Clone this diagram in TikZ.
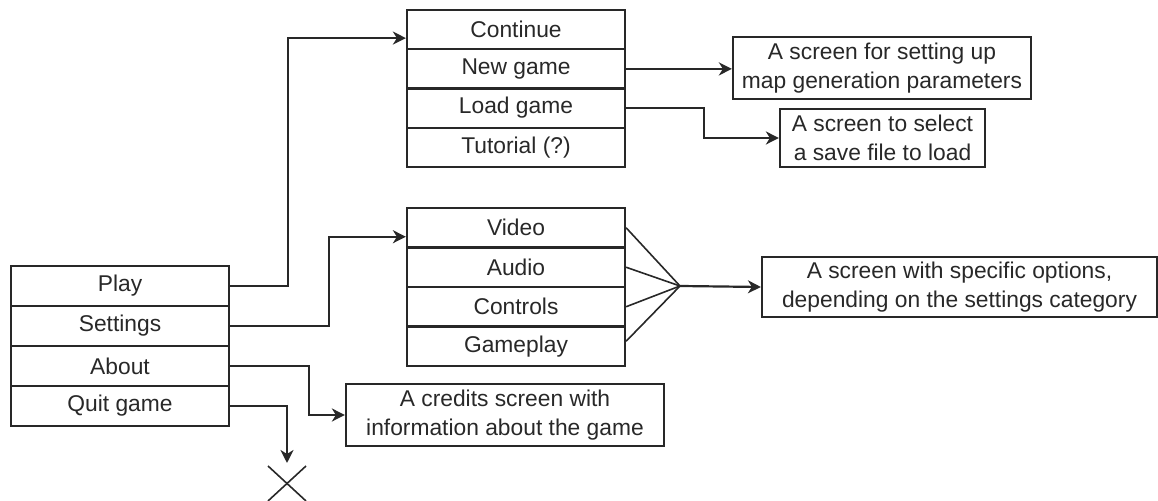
\documentclass[tikz,border=0pt]{standalone}
\usepackage{fontspec}
\setmainfont{Liberation Sans}
\usetikzlibrary{arrows.meta,calc}
\definecolor{ink}{RGB}{40,40,40}
\begin{document}
\begin{tikzpicture}[x=0.5pt,y=-0.5pt,
  every node/.style={font=\fontsize{11.4}{14.5}\selectfont, text=ink},
  box/.style={draw=ink, line width=1.1pt, rectangle, inner sep=0pt, align=center},
  conn/.style={draw=ink, line width=1.1pt},
  arr/.style={conn, -{Stealth[length=6.5pt,width=6.5pt,inset=2pt]}}]
\useasboundingbox (0,0) rectangle (1158,501);
% main menu
\node[box, minimum width=109pt, minimum height=20pt] (play) at (120,286) {Play};
\node[box, minimum width=109pt, minimum height=20pt] (settings) at (120,326) {Settings};
\node[box, minimum width=109pt, minimum height=20pt] (about) at (120,366) {About};
\node[box, minimum width=109pt, minimum height=20pt] (quit) at (120,406) {Quit game};
% play submenu
\node[box, minimum width=109pt, minimum height=19.6pt] (cont) at (516,29.6) {Continue};
\node[box, minimum width=109pt, minimum height=19.6pt] (newgame) at (516,68.9) {New game};
\node[box, minimum width=109pt, minimum height=19.6pt] (loadgame) at (516,108.1) {Load game};
\node[box, minimum width=109pt, minimum height=19.6pt] (tutorial) at (516,147.4) {Tutorial (?)};
% settings submenu
\node[box, minimum width=109pt, minimum height=19.75pt] (video) at (516,227.75) {Video};
\node[box, minimum width=109pt, minimum height=19.75pt] (audio) at (516,267.25) {Audio};
\node[box, minimum width=109pt, minimum height=19.75pt] (controls) at (516,306.75) {Controls};
\node[box, minimum width=109pt, minimum height=19.75pt] (gameplay) at (516,346.25) {Gameplay};
% screens
\node[box, minimum width=149pt, minimum height=31pt] (nscreen) at (882,68) {A screen for setting up\\map generation parameters};
\node[box, minimum width=102.5pt, minimum height=29pt] (lscreen) at (882.5,138) {A screen to select\\a save file to load};
\node[box, minimum width=197.5pt, minimum height=30pt] (sscreen) at (959.5,287) {A screen with specific options,\\depending on the settings category};
\node[box, minimum width=159pt, minimum height=31pt] (credits) at (505,415) {A credits screen with\\information about the game};
% connectors
\draw[arr] (play.east) -- ++(58,0) |- ($(cont.west)+(0,8.5)$);
\draw[arr] (settings.east) -- ++(99,0) |- ($(video.west)+(0,9)$);
\draw[arr] (newgame.east) -- (newgame.east -| nscreen.west);
\draw[arr] (loadgame.east) -- ++(78,0) |- (lscreen.west);
\coordinate (fan) at (680,286);
\draw[conn, line width=0.8pt] (video.east) -- (fan);
\draw[conn, line width=0.8pt] (audio.east) -- (fan);
\draw[conn, line width=0.8pt] (controls.east) -- (fan);
\draw[conn, line width=0.8pt] ($(gameplay.east)+(0,-5)$) -- (fan);
\draw[arr] (fan) -- (sscreen.west);
\draw[arr] (about.east) -- ++(79,0) |- (credits.west);
\coordinate (xmark) at (287,484);
\draw[arr] (quit.east) -| ($(xmark)+(0,-21)$);
\draw[conn, line width=0.8pt] ($(xmark)+(-19,-18)$) -- ($(xmark)+(19,17)$);
\draw[conn, line width=0.8pt] ($(xmark)+(19,-18)$) -- ($(xmark)+(-19,17)$);
\end{tikzpicture}
\end{document}
